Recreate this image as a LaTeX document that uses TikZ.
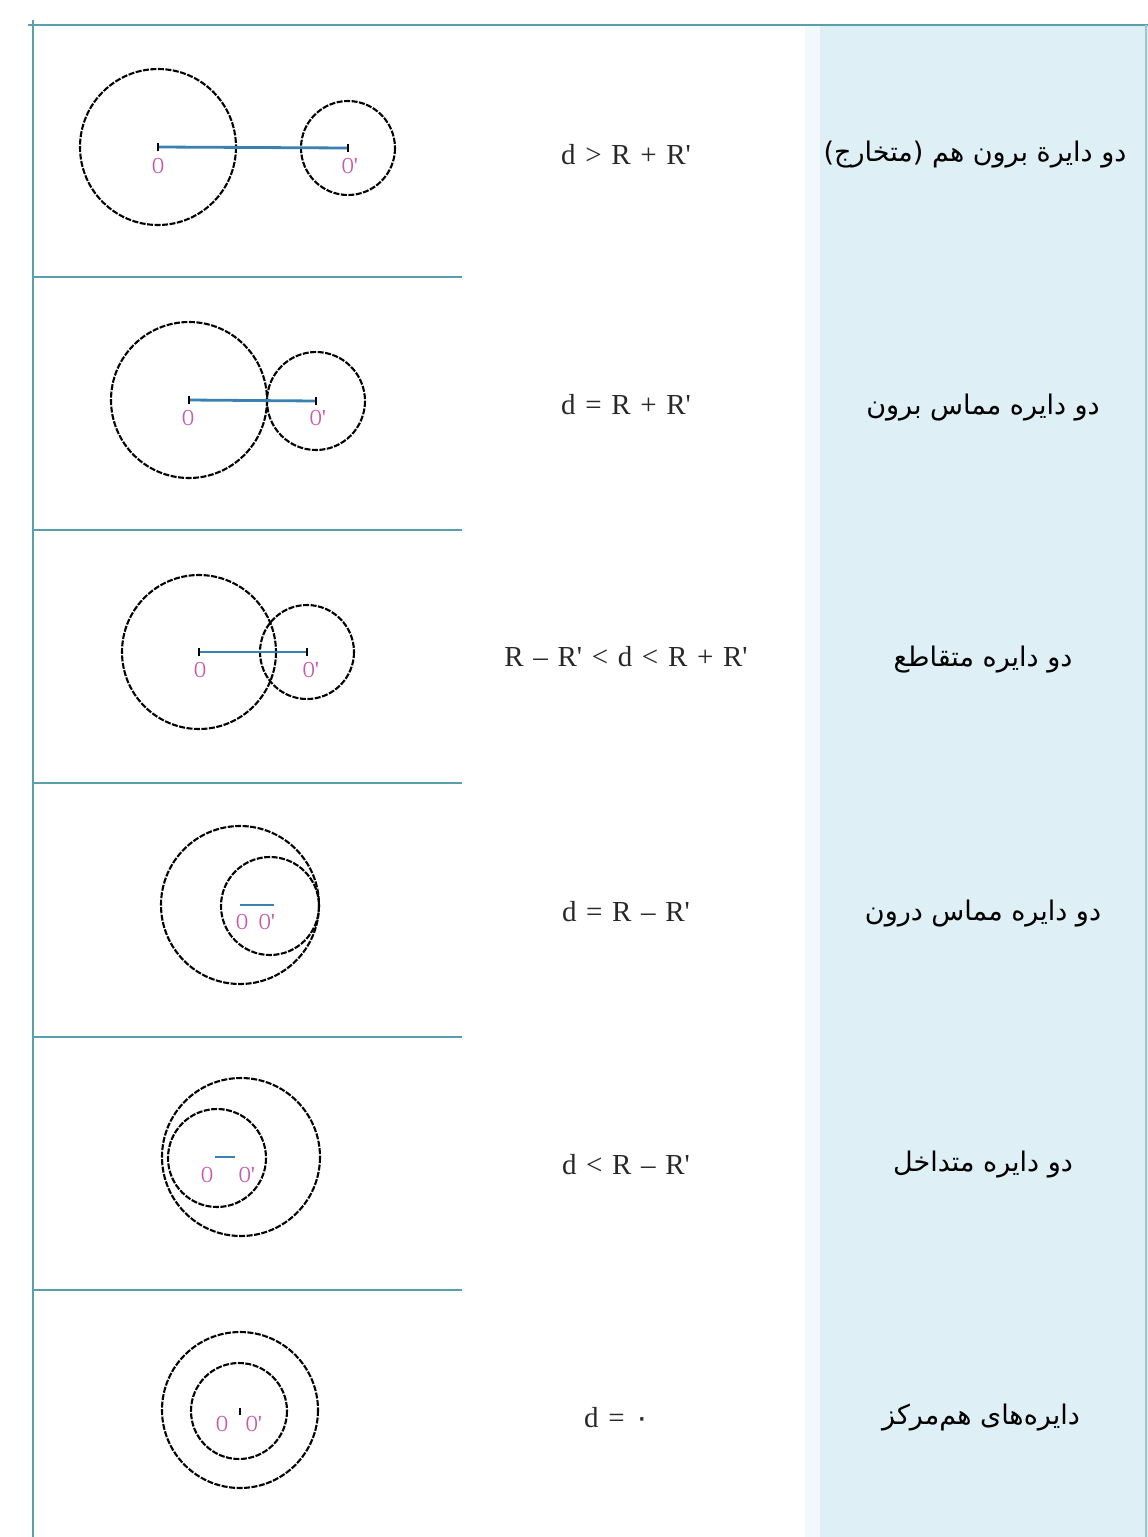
\documentclass[tikz,border=0pt]{standalone}
\usepackage{fontspec}
\setmainfont{Liberation Serif}
\newfontfamily\fa[Script=Arabic]{DejaVu Sans}
\TeXXeTstate=1
\definecolor{rule}{RGB}{88,160,172}
\definecolor{panel}{RGB}{222,239,245}
\definecolor{dline}{RGB}{58,128,176}
\definecolor{lbl}{RGB}{200,90,170}
\definecolor{ftext}{RGB}{40,40,40}
\newcommand{\pr}{\textquotesingle}
\newcommand{\lO}{\scalebox{0.72}[1]{O}}
\tikzset{
  rulel/.style={draw=rule,line width=2.6pt},
  circ/.style={draw=black,line width=2.1pt,dash pattern=on 6pt off 1.5pt},
  dseg/.style={draw=dline,line width=2.8pt},
  tick/.style={draw=black,line width=1.6pt},
  ctr/.style={text=lbl,font=\fontsize{23}{23}\selectfont,inner sep=0pt},
  formula/.style={text=ftext,font=\fontsize{29}{32}\selectfont,inner sep=0pt},
  fatext/.style={text=black,font=\fa\fontsize{27}{30}\selectfont,inner sep=0pt}
}
\begin{document}
\begin{tikzpicture}[x=1pt,y=-1pt]
\useasboundingbox (0,0) rectangle (1148,1537);
\fill[white] (0,0) rectangle (1148,1537);
\fill[panel] (820,25) rectangle (1148,1537);
\fill[panel!40] (805,25) rectangle (820,1537);
% frame lines
\coordinate (tl) at (28,25);
\coordinate (tr) at (1148,25);
\coordinate (lt) at (33,20);
\coordinate (lb) at (33,1537);
\draw[rulel] (tl) -- (tr);
\draw[rulel] (lt) -- (lb);
\draw[draw=rule!60,line width=1.5pt] (1146,25) -- (1146,1537);
\foreach \yy/\nm in {277/a,530/b,783/c,1037/d,1290/e}{
  \coordinate (s\nm l) at (33,\yy);
  \coordinate (s\nm r) at (462,\yy);
  \draw[rulel] (s\nm l) -- (s\nm r);
}

% ---------- row 1: separate
\coordinate (c1a) at (158,147);
\coordinate (c1b) at (348,148);
\draw[circ] (c1a) circle[radius=78];
\draw[circ] (c1b) circle[radius=47];
\draw[dseg] (c1a) -- (c1b);
\draw[tick] ([yshift=-4]c1a) -- ([yshift=4]c1a);
\draw[tick] ([yshift=-4]c1b) -- ([yshift=4]c1b);
\node[ctr] (l1a) at (158,166) {\lO};
\node[ctr] (l1b) at (350,166) {\lO\pr};
\node[formula] (f1) at (626,155) {d\,\,>\,\,R\,\,+\,\,R\pr};
\node[fatext] (t1) at (975,155) {\beginR دو دایرة برون هم (متخارج)\endR};

% ---------- row 2: externally tangent
\coordinate (c2a) at (189,400);
\coordinate (c2b) at (316,401);
\draw[circ] (c2a) circle[radius=78];
\draw[circ] (c2b) circle[radius=49];
\draw[dseg] (c2a) -- (c2b);
\draw[tick] ([yshift=-4]c2a) -- ([yshift=4]c2a);
\draw[tick] ([yshift=-4]c2b) -- ([yshift=4]c2b);
\node[ctr] (l2a) at (188,418) {\lO};
\node[ctr] (l2b) at (318,418) {\lO\pr};
\node[formula] (f2) at (626,405) {d\,\,=\,\,R\,\,+\,\,R\pr};
\node[fatext] (t2) at (983,408) {\beginR دو دایره مماس برون\endR};

% ---------- row 3: intersecting
\coordinate (c3a) at (199,652);
\coordinate (c3b) at (307,652);
\draw[circ] (c3a) circle[radius=77];
\draw[circ] (c3b) circle[radius=47];
\draw[dseg] (c3a) -- (c3b);
\draw[tick] ([yshift=-4]c3a) -- ([yshift=4]c3a);
\draw[tick] ([yshift=-4]c3b) -- ([yshift=4]c3b);
\node[ctr] (l3a) at (200,670) {\lO};
\node[ctr] (l3b) at (311,670) {\lO\pr};
\node[formula] (f3) at (626,657) {R\,\,–\,\,R\pr\,\,<\,\,d\,\,<\,\,R\,\,+\,\,R\pr};
\node[fatext] (t3) at (983,660) {\beginR دو دایره متقاطع\endR};

% ---------- row 4: internally tangent
\coordinate (c4a) at (240,905);
\coordinate (c4b) at (270,906);
\draw[circ] (c4a) circle[radius=79];
\draw[circ] (c4b) circle[radius=49];
\coordinate (c4e) at (274,905);
\draw[dseg] (c4a) -- (c4e);
\node[ctr] (l4a) at (242,922) {\lO};
\node[ctr] (l4b) at (267,922) {\lO\pr};
\node[formula] (f4) at (626,912) {d\,\,=\,\,R\,\,–\,\,R\pr};
\node[fatext] (t4) at (983,914) {\beginR دو دایره مماس درون\endR};

% ---------- row 5: one inside the other
\coordinate (c5a) at (241,1157);
\coordinate (c5b) at (217,1158);
\draw[circ] (c5a) circle[radius=79];
\draw[circ] (c5b) circle[radius=49];
\coordinate (c5s) at (215,1157);
\coordinate (c5m) at (235,1157);
\draw[dseg] (c5s) -- (c5m);
\node[ctr] (l5a) at (207,1175) {\lO};
\node[ctr] (l5b) at (247,1175) {\lO\pr};
\node[formula] (f5) at (626,1165) {d\,\,<\,\,R\,\,–\,\,R\pr};
\node[fatext] (t5) at (983,1165) {\beginR دو دایره متداخل\endR};

% ---------- row 6: concentric
\coordinate (c6a) at (240,1410);
\coordinate (c6b) at (239,1411);
\draw[circ] (c6a) circle[radius=78];
\draw[circ] (c6b) circle[radius=48];
\draw[tick] ([yshift=-5]c6a) -- ([yshift=2]c6a);
\node[ctr] (l6a) at (222,1424) {\lO};
\node[ctr] (l6b) at (254,1424) {\lO\pr};
\node[formula] (f6) at (617,1418) {d\,\,=\,\,{\fa ۰}};
\node[fatext] (t6) at (981,1418) {\beginR دایره‌های هم‌مرکز\endR};
\end{tikzpicture}
\end{document}
